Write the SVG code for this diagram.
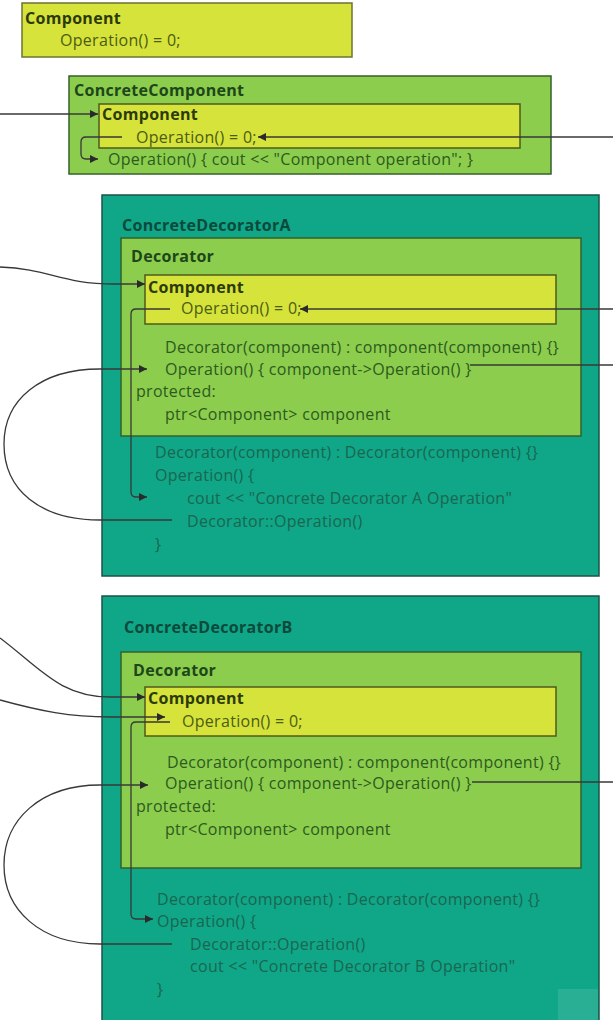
<svg xmlns="http://www.w3.org/2000/svg" width="613" height="1020" viewBox="0 0 613 1020">
<defs>
<style>
text{font-family:"Open Sans","Noto Sans","Liberation Sans",sans-serif;font-size:16px;letter-spacing:0.3px}
.b{font-weight:bold}
.yel{fill:#d5e33b;stroke:#4f5a1c;stroke-width:1.5}
.grn{fill:#8ccd4d;stroke:#35602a;stroke-width:1.5}
.teal{fill:#10a688;stroke:#1a5446;stroke-width:1.5}
.ty{fill:#4d5c12}.tyb{fill:#2c3a08}
.tg{fill:#2d5a1f}.tgb{fill:#1d461a}
.tt{fill:#1a6650}.ttb{fill:#0b4a3b}
.c{fill:none;stroke:#383838;stroke-width:1.3}
</style>
<marker id="ah" viewBox="0 0 8 8" refX="8" refY="4" markerWidth="8" markerHeight="8" markerUnits="userSpaceOnUse" orient="auto">
<path d="M0,0 L8,4 L0,8 z" fill="#2a2a2a"/>
</marker>
</defs>
<rect width="613" height="1020" fill="#ffffff"/>

<g id="component">
<rect class="yel" x="22" y="3" width="330" height="54" style="stroke:#6b7430"/>
<text class="b tyb" x="25" y="24">Component</text>
<text class="ty" x="60" y="46">Operation() = 0;</text>
</g>

<g id="concrete-component">
<rect class="grn" x="69" y="76" width="482" height="98"/>
<text class="b tgb" x="74" y="96">ConcreteComponent</text>
<rect class="yel" x="99" y="104" width="421" height="44"/>
<text class="b tyb" x="102" y="120">Component</text>
<text class="ty" x="136" y="143">Operation() = 0;</text>
<text class="tg" x="108" y="165">Operation() { cout &lt;&lt; "Component operation"; }</text>
</g>

<g id="concrete-decorator-a">
<rect class="teal" x="102" y="195" width="497" height="381"/>
<text class="b ttb" x="122" y="231">ConcreteDecoratorA</text>
<rect class="grn" x="121" y="238" width="460" height="198"/>
<text class="b tgb" x="131" y="262">Decorator</text>
<rect class="yel" x="145" y="275" width="411" height="49"/>
<text class="b tyb" x="148" y="293">Component</text>
<text class="ty" x="181" y="314">Operation() = 0;</text>
<text class="tg" x="165" y="353">Decorator(component) : component(component) {}</text>
<text class="tg" x="165" y="375">Operation() { component-&gt;Operation() }</text>
<text class="tg" x="136" y="397">protected:</text>
<text class="tg" x="165" y="420">ptr&lt;Component&gt; component</text>
<text class="tt" x="155" y="458">Decorator(component) : Decorator(component) {}</text>
<text class="tt" x="155" y="481">Operation() {</text>
<text class="tt" x="187" y="504">cout &lt;&lt; "Concrete Decorator A Operation"</text>
<text class="tt" x="187" y="527">Decorator::Operation()</text>
<text class="tt" x="155" y="550">}</text>
</g>

<g id="concrete-decorator-b">
<rect class="teal" x="102" y="596" width="497" height="440"/>
<text class="b ttb" x="124" y="633">ConcreteDecoratorB</text>
<rect class="grn" x="121" y="652" width="460" height="216"/>
<text class="b tgb" x="133" y="676">Decorator</text>
<rect class="yel" x="145" y="687" width="411" height="49"/>
<text class="b tyb" x="148" y="704">Component</text>
<text class="ty" x="182" y="727">Operation() = 0;</text>
<text class="tg" x="167" y="768">Decorator(component) : component(component) {}</text>
<text class="tg" x="165" y="789">Operation() { component-&gt;Operation() }</text>
<text class="tg" x="136" y="812">protected:</text>
<text class="tg" x="165" y="835">ptr&lt;Component&gt; component</text>
<text class="tt" x="157" y="905">Decorator(component) : Decorator(component) {}</text>
<text class="tt" x="157" y="927">Operation() {</text>
<text class="tt" x="190" y="950">Decorator::Operation()</text>
<text class="tt" x="190" y="972">cout &lt;&lt; "Concrete Decorator B Operation"</text>
<text class="tt" x="157" y="995">}</text>
<rect x="558" y="989" width="40" height="31" fill="#ffffff" fill-opacity="0.1"/>
</g>

<g id="connectors">
<path class="c" d="M0,114 L98,114" marker-end="url(#ah)"/>
<path class="c" d="M613,137 L258,137" marker-end="url(#ah)"/>
<path class="c" d="M122,137 L86,137 Q81,137 81,142 L81,154 Q81,159 86,159 L98,159" marker-end="url(#ah)"/>

<path class="c" d="M0,267 C50,269 60,284 115,284 L145,284" marker-end="url(#ah)"/>
<path class="c" d="M613,309 L300,309" marker-end="url(#ah)"/>
<path class="c" d="M170,309 L136,309 Q131,309 131,314 L131,492 Q131,497 136,497 L147,497" marker-end="url(#ah)"/>
<path class="c" d="M613,365 L470,365"/>
<path class="c" d="M172,520 L100,520 C40,520 4,490 4,444 C4,400 40,369 100,369 L147,369" marker-end="url(#ah)"/>

<path class="c" d="M0,638 C40,668 60,697 110,697 L145,697" marker-end="url(#ah)"/>
<path class="c" d="M0,700 C40,711 70,717 110,717 L165,717" marker-end="url(#ah)"/>
<path class="c" d="M170,722 L136,722 Q131,722 131,727 L131,914 Q131,919 136,919 L153,919" marker-end="url(#ah)"/>
<path class="c" d="M613,782 L472,782"/>
<path class="c" d="M172,944 L100,944 C40,944 4,910 4,865 C4,820 40,785 100,785 L148,785" marker-end="url(#ah)"/>
</g>
</svg>
